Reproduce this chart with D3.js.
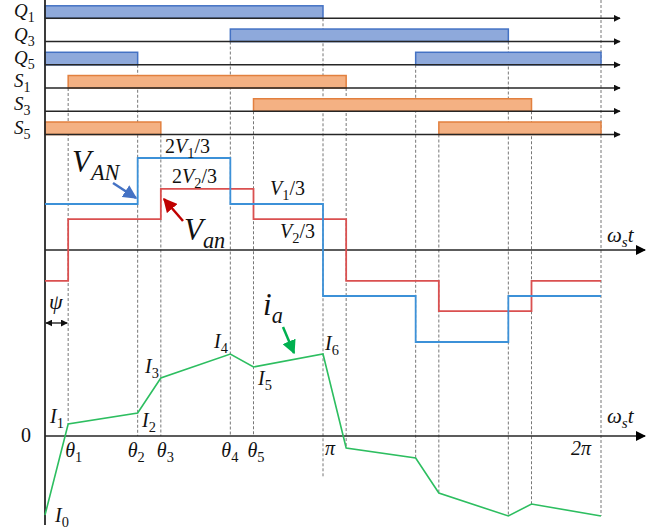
<!DOCTYPE html>
<html><head><meta charset="utf-8">
<script src="https://cdn.jsdelivr.net/npm/d3@7"></script>
<style>
body{margin:0;background:#fff;}
svg{display:block;font-family:"Liberation Serif",serif;}
</style></head>
<body><div id="chart"></div>
<script>
// ---- data ----
const switchNames = ["Q1","Q3","Q5","S1","S3","S5"];
const switchOn = [
  [[0,180]],
  [[120,300]],
  [[0,60],[240,360]],
  [[15,195]],
  [[135,315]],
  [[0,75],[255,360]]
];
const vANAngles = [0,60,120,180,240,300,360];
const vANLevels = [1,2,1,-1,-2,-1];           // units of V1/3
const vanAngles = [0,15,75,135,195,255,315,360];
const vanLevels = [-0.67,0.67,1.33,0.67,-0.67,-1.33,-0.67];
const iAngles = [0,15,60,75,120,135,180,195,240,255,300,315,360];
const iValues = [-79,12,23,58,82,69,82,-12,-22,-57,-80,-68,-80];
const guideAngles = [15,60,75,120,135,180,195,240,255,300,315,360];
const guideBottom = [12,0,0,0,0,-41,-12,-22,-57,-80,-68,-80];
const thetaLabels = [["θ","1",15],["θ","2",60],["θ","3",75],["θ","4",120],["θ","5",135],["π","",180],["2π","",360]];
const iLabels = ["0","1","2","3","4","5","6"];

// ---- layout ----
const W=668,H=530;
const svg=d3.select("#chart").append("svg").attr("width",W).attr("height",H);
const x=d3.scaleLinear().domain([0,360]).range([45,601]);
const yRow=d3.scalePoint().domain(switchNames).range([18.3,134.5]);
const yV=d3.scaleLinear().domain([-2,2]).range([342,158]);
const yI=d3.scaleLinear().domain([-80,80]).range([516,356]);
const barH=12.5;
const axisColor="#262626";

const defs=svg.append("defs");
function marker(id,color,size){
  defs.append("marker").attr("id",id).attr("viewBox","0 0 10 10").attr("refX",9).attr("refY",5)
    .attr("markerWidth",size).attr("markerHeight",size).attr("orient","auto-start-reverse")
    .attr("markerUnits","userSpaceOnUse")
    .append("path").attr("d","M0,0 L10,5 L0,10 Z").attr("fill",color);
}
marker("ax","#000",10);
marker("axs","#111",7);
marker("blueA","#4472C4",14);
marker("redA","#C00000",14);
marker("greenA","#00B050",14);

// dashed guides
const guideTop = guideAngles.map(a=>{
  if(a===360) return 0;
  for(let r=0;r<switchNames.length;r++){
    if(switchOn[r].some(iv=>iv[0]===a||iv[1]===a)) return yRow(switchNames[r]);
  }
  return 0;
});
svg.append("g").selectAll("line").data(guideAngles).join("line")
  .attr("x1",d=>x(d)).attr("x2",d=>x(d))
  .attr("y1",(d,i)=>guideTop[i]).attr("y2",(d,i)=>yI(guideBottom[i]))
  .attr("stroke","#777").attr("stroke-width",1).attr("stroke-dasharray","3,2");

// switch bars
switchNames.forEach((n,r)=>{
  const isQ=n[0]==="Q";
  svg.append("g").selectAll("rect").data(switchOn[r]).join("rect")
    .attr("x",d=>x(d[0])).attr("width",d=>x(d[1])-x(d[0]))
    .attr("y",yRow(n)-barH).attr("height",barH)
    .attr("fill",isQ?"#8EA9DB":"#F4B183")
    .attr("stroke",isQ?"#4472C4":"#E2803F").attr("stroke-width",1.5);
  svg.append("line").attr("x1",x(0)).attr("x2",620).attr("y1",yRow(n)).attr("y2",yRow(n))
    .attr("stroke",axisColor).attr("stroke-width",1.6).attr("marker-end","url(#axs)");
  const t=svg.append("text").attr("x",14).attr("y",yRow(n)-1).attr("font-size",19).attr("fill","#111");
  t.append("tspan").attr("font-style","italic").text(n[0]);
  t.append("tspan").attr("font-size",14).attr("dy",5).text(n.slice(1));
});

// vertical axis
svg.append("line").attr("x1",x(0)).attr("x2",x(0)).attr("y1",0).attr("y2",525)
  .attr("stroke",axisColor).attr("stroke-width",1.8);

// voltage axis
svg.append("line").attr("x1",x(0)).attr("x2",645).attr("y1",yV(0)).attr("y2",yV(0))
  .attr("stroke",axisColor).attr("stroke-width",1.6).attr("marker-end","url(#ax)");
// current axis
svg.append("line").attr("x1",x(0)).attr("x2",645).attr("y1",yI(0)).attr("y2",yI(0))
  .attr("stroke",axisColor).attr("stroke-width",1.6).attr("marker-end","url(#ax)");

// step lines
const stepLine=d3.line().x(d=>x(d[0])).y(d=>yV(d[1])).curve(d3.curveStepAfter);
const vANpts=vANLevels.map((v,i)=>[vANAngles[i],v]).concat([[360,vANLevels[vANLevels.length-1]]]);
const vanpts=vanLevels.map((v,i)=>[vanAngles[i],v]).concat([[360,vanLevels[vanLevels.length-1]]]);
svg.append("path").attr("d",stepLine(vanpts)).attr("fill","none").attr("stroke","#DA5050").attr("stroke-width",1.8);
svg.append("path").attr("d",stepLine(vANpts)).attr("fill","none").attr("stroke","#3C91D8").attr("stroke-width",1.8);

// current
const iLine=d3.line().x(d=>x(d[0])).y(d=>yI(d[1]));
svg.append("path").attr("d",iLine(iValues.map((v,i)=>[iAngles[i],v]))).attr("fill","none")
  .attr("stroke","#2DBE60").attr("stroke-width",1.6);

// text helper
function lab(px,py,parts,size){
  const t=svg.append("text").attr("x",px).attr("y",py).attr("font-size",size).attr("fill","#111");
  let shift=0;
  parts.forEach(p=>{
    const s=t.append("tspan").text(p.t);
    if(p.i) s.attr("font-style","italic");
    if(p.sub){ s.attr("font-size",size*0.72).attr("dy",size*0.25-shift); shift=size*0.25; }
    else if(shift){ s.attr("dy",-shift); shift=0; }
  });
  return t;
}
// voltage labels
lab(165,153,[{t:"2"},{t:"V",i:1},{t:"1",sub:1},{t:"/3"}],20);
lab(172,183,[{t:"2"},{t:"V",i:1},{t:"2",sub:1},{t:"/3"}],20);
lab(270,195,[{t:"V",i:1},{t:"1",sub:1},{t:"/3"}],20);
lab(280,238,[{t:"V",i:1},{t:"2",sub:1},{t:"/3"}],20);
lab(72,172,[{t:"V",i:1},{t:"AN",i:1,sub:1}],31);
lab(184,240,[{t:"V",i:1},{t:"an",i:1,sub:1}],31);
lab(607,242,[{t:"ω",i:1},{t:"s",i:1,sub:1},{t:"t",i:1}],21);
lab(607,423,[{t:"ω",i:1},{t:"s",i:1,sub:1},{t:"t",i:1}],21);
lab(263,315,[{t:"i",i:1},{t:"a",i:1,sub:1}],31);
lab(49,309,[{t:"ψ",i:1}],22);
lab(21,442,[{t:"0"}],20);

// pointer arrows
svg.append("line").attr("x1",113).attr("y1",183).attr("x2",136).attr("y2",198)
  .attr("stroke","#4472C4").attr("stroke-width",2.5).attr("marker-end","url(#blueA)");
svg.append("line").attr("x1",183).attr("y1",221).attr("x2",164).attr("y2",199)
  .attr("stroke","#C00000").attr("stroke-width",2.5).attr("marker-end","url(#redA)");
svg.append("line").attr("x1",283).attr("y1",327).attr("x2",294).attr("y2",353)
  .attr("stroke","#00B050").attr("stroke-width",2.5).attr("marker-end","url(#greenA)");
// psi arrow
svg.append("line").attr("x1",x(0)+1).attr("x2",x(15)-1).attr("y1",323).attr("y2",323)
  .attr("stroke","#111").attr("stroke-width",1.3)
  .attr("marker-start","url(#axs)").attr("marker-end","url(#axs)");

// current point labels
const iLabPos=[[55,522],[50,423],[142,427],[145,373],[214,348],[258,385],[325,350]];
iLabels.forEach((s,k)=>lab(iLabPos[k][0],iLabPos[k][1],[{t:"I",i:1},{t:s,sub:1}],20));

// theta labels
const thOff={15:-3,60:-10,75:-4,120:-9,135:-6,180:2,360:-30};
thetaLabels.forEach(d=>{
  const parts=[{t:d[0],i:1}];
  if(d[1]) parts.push({t:d[1],sub:1});
  lab(x(d[2])+thOff[d[2]], d[2]>=180?455:457, parts,20);
});
</script></body></html>
